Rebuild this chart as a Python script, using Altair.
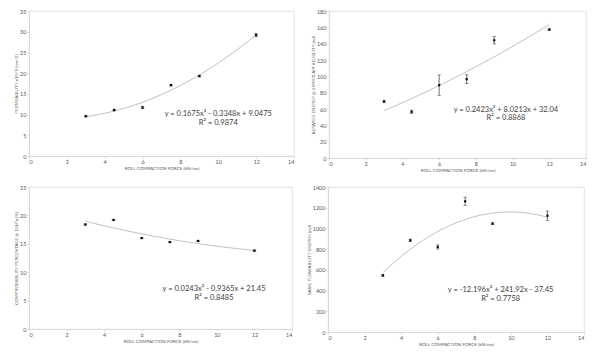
import altair as alt
import pandas as pd

force = [3, 4.5, 6, 7.5, 9, 12]

perm = [9.6, 11.1, 11.7, 17.1, 19.3, 29.2]
perm_err = [0.15, 0.2, 0.3, 0.2, 0.2, 0.4]

aer = [69.2, 56.6, 89.2, 96.5, 144.1, 157.2]
aer_err = [1.5, 2.0, 12.5, 5.5, 4.5, 1.0]

comp = [18.4, 19.2, 16.0, 15.3, 15.5, 13.8]
comp_err = [0.1, 0.1, 0.1, 0.1, 0.1, 0.1]

bfe = [547, 885, 821, 1262, 1046, 1123]
bfe_err = [10, 12, 20, 40, 8, 45]

x_title = "ROLL COMPACTION FORCE (kN/cm)"
x_ticks = [0, 2, 4, 6, 8, 10, 12, 14]

FONT = "Lato"
GRAY = "#595959"
TXT = "#404040"


def panel(yvals, errs, ytitle, ymax, ystep, eq, r2, tx, ty1, ty2, w, h):
    df = pd.DataFrame({"x": force, "y": yvals, "e": errs})
    base = alt.Chart(df)
    xs = alt.Scale(domain=[0, 14], nice=False, zero=False)
    ys = alt.Scale(domain=[0, ymax], nice=False)
    yticks = list(range(0, ymax + 1, ystep))
    xax = alt.Axis(values=x_ticks, title=x_title, format="d", labelOverlap=False,
                   tickCount=len(x_ticks))
    yax = alt.Axis(values=yticks, title=ytitle, format="d", labelOverlap=False,
                   tickCount=len(yticks))

    def X(f):
        return alt.X(f, scale=xs, axis=xax, title=x_title)

    def Y(f):
        return alt.Y(f, scale=ys, axis=yax, title=ytitle)

    trend = base.transform_regression(
        "x", "y", method="poly", order=2, extent=[3, 12]
    ).mark_line(color="#c0c0c0", strokeWidth=1).encode(x=X("x:Q"), y=Y("y:Q"))
    eb = base.transform_calculate(lo="datum.y - datum.e", hi="datum.y + datum.e")
    bars = eb.mark_rule(color="#333333", strokeWidth=0.7).encode(
        x=X("x:Q"), y=Y("lo:Q"), y2="hi:Q")
    cap_lo = eb.mark_tick(color="#333333", orient="horizontal", size=3.5, thickness=0.7).encode(
        x=X("x:Q"), y=Y("lo:Q"))
    cap_hi = eb.mark_tick(color="#333333", orient="horizontal", size=3.5, thickness=0.7).encode(
        x=X("x:Q"), y=Y("hi:Q"))
    pts = base.mark_point(shape="square", filled=True, size=5, color="#111111", opacity=1).encode(
        x=X("x:Q"), y=Y("y:Q"))
    t1 = alt.Chart().mark_text(font=FONT, fontSize=7.5, fill=TXT, align="center", baseline="middle").encode(
        x=alt.X(datum=tx, scale=xs, axis=xax), y=alt.Y(datum=ty1, scale=ys, axis=yax),
        text=alt.value(eq))
    t2 = alt.Chart().mark_text(font=FONT, fontSize=7.5, fill=TXT, align="center", baseline="middle").encode(
        x=alt.X(datum=tx, scale=xs, axis=xax), y=alt.Y(datum=ty2, scale=ys, axis=yax),
        text=alt.value(r2))
    return alt.layer(trend, bars, cap_lo, cap_hi, pts, t1, t2).properties(width=w, height=h)


p1 = panel(perm, perm_err, "PERMEABILITY x10^9 (cm^2)", 35, 5,
           "y = 0.1675x² - 0.3348x + 9.0475", "R² = 0.9874", 10.0, 10.1, 8.0, 265, 145)
p2 = panel(aer, aer_err, "AERATED ENERGY @ 5MM/S AIR VELOCITY (mJ)", 180, 20,
           "y = 0.2423x² + 8.0213x + 32.04", "R² = 0.8868", 9.64, 58.8, 48.4, 257, 147)
p3 = panel(comp, comp_err, "COMPRESSIBILITY PERCENTAGE @ 15kPa (%)", 25, 5,
           "y = 0.0243x² - 0.9365x + 21.45", "R² = 0.8485", 9.85, 7.0, 5.5, 263, 142)
p4 = panel(bfe, bfe_err, "BASIC FLOWABILITY ENERGY (mJ)", 1400, 200,
           "y = -12.196x² + 241.92x - 37.45", "R² = 0.7758", 9.44, 405, 323, 256, 145)

chart = alt.vconcat(
    alt.hconcat(p1, p2, spacing=15),
    alt.hconcat(p3, p4, spacing=12),
    spacing=11,
).configure(
    padding={"left": 5, "top": 0, "right": 0, "bottom": 0},
    background="white",
).configure_axis(
    labelFont=FONT, labelFontSize=5.5, labelColor=GRAY, labelPadding=1,
    labelOverlap=False, labelSeparation=0,
    titleFont=FONT, titleFontSize=4.5, titleFontWeight="normal", titleColor=GRAY,
    titlePadding=1, domainColor="#d9d9d9", tickColor="#d9d9d9", tickSize=2,
    grid=False,
).configure_view(stroke="#d9d9d9", strokeWidth=0.8)

chart.save("out.html", embed_options={"renderer": "svg", "actions": False})
